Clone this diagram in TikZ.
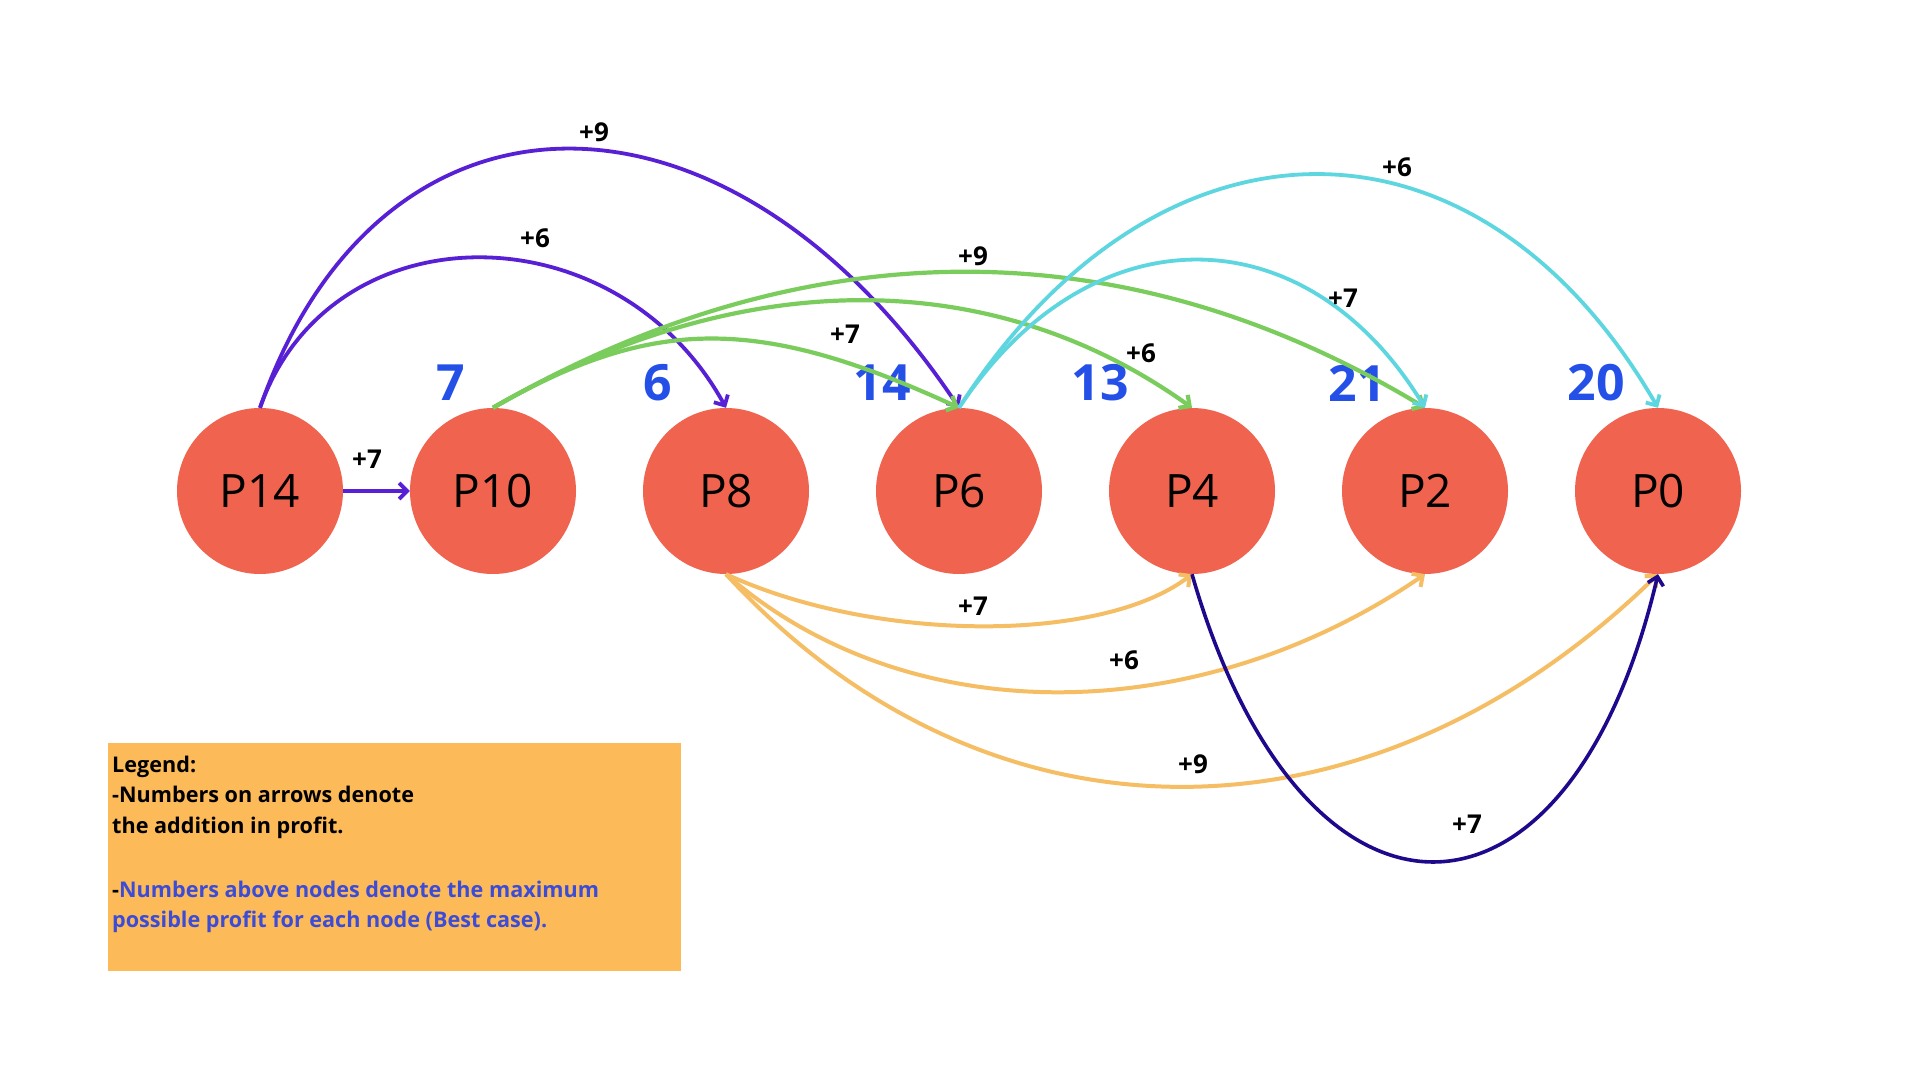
\documentclass[tikz,border=0pt]{standalone}
\usepackage{fontspec}
\setmainfont{Open Sans}
\usetikzlibrary{arrows.meta}
\definecolor{nodered}{RGB}{240,99,79}
\definecolor{purp}{RGB}{88,32,212}
\definecolor{grn}{RGB}{122,205,92}
\definecolor{cyn}{RGB}{94,214,224}
\definecolor{orng}{RGB}{245,190,100}
\definecolor{navy2}{RGB}{30,8,140}
\definecolor{numblue}{RGB}{36,80,232}
\definecolor{legblue}{RGB}{60,76,214}
\definecolor{legbg}{RGB}{252,187,88}
\tikzset{
  pnode/.style={circle, fill=nodered, minimum size=166pt, inner sep=0pt, font=\fontsize{46}{46}\selectfont},
  best/.style={text=numblue, inner sep=0pt, font=\fontsize{50}{50}\selectfont\bfseries},
  elab/.style={inner sep=0pt, font=\fontsize{26}{26}\selectfont\bfseries},
  tip/.style={-{Straight Barb[length=8pt,width=16pt]}},
  pedge/.style={draw=purp, line width=3.8pt, tip},
  gedge/.style={draw=grn, line width=4.2pt, tip},
  cedge/.style={draw=cyn, line width=3.8pt, tip},
  oedge/.style={draw=orng, line width=4pt, tip},
  nedge/.style={draw=navy2, line width=3.6pt, tip},
  legtext/.style={anchor=base west, inner sep=0pt, font=\fontsize{21.6}{21.6}\selectfont\bfseries},
}
\begin{document}
\begin{tikzpicture}[x=1pt,y=1pt]
\fill[white] (0,0) rectangle (1920,1080);
\useasboundingbox (0,0) rectangle (1920,1080);

% legend box
\fill[legbg] (108,109) rectangle (681,337);
\node[legtext] (leg1) at (112,307) {Legend:};
\node[legtext] (leg2) at (112,277) {-Numbers on arrows denote};
\node[legtext] (leg3) at (112,247) {the addition in profit.};
\node[legtext] (leg4) at (112,183) {-\textcolor{legblue}{Numbers above nodes denote the maximum}};
\node[legtext, text=legblue] (leg5) at (112,153) {possible profit for each node (Best case).};

% nodes
\node[pnode] (P14) at (260,589) {P14};
\node[pnode] (P10) at (493,589) {P10};
\node[pnode] (P8) at (726,589) {P8};
\node[pnode] (P6) at (959,589) {P6};
\node[pnode] (P4) at (1192,589) {P4};
\node[pnode] (P2) at (1425,589) {P2};
\node[pnode] (P0) at (1658,589) {P0};

% best-case numbers
\node[best] (b10) at (451,697) {7};
\node[best] (b8) at (658,697) {6};
\node[best] (b6) at (882,697) {14};
\node[best] (b4) at (1100,697) {13};
\node[best] (b2) at (1357,697) {21};
\node[best] (b0) at (1596,697) {20};

% edges
\draw[pedge] (P14.east) -- (P10.west);
\draw[pedge] (P14.north) .. controls +(70,200) and +(-110,200) .. (P8.north);
\draw[pedge] (P14.north) .. controls +(120,345) and +(-230,345) .. (P6.north);

\draw[gedge] (P10.north) .. controls +(160,92) and +(-200,92) .. (P6.north);
\draw[gedge] (P10.north) .. controls +(248,143) and +(-200,143) .. (P4.north);
\draw[gedge] (P10.north) .. controls +(314,181) and +(-300,181) .. (P2.north);

\draw[cedge] (P6.north) .. controls +(130,197) and +(-120,197) .. (P2.north);
\draw[cedge] (P6.north) .. controls +(200,311) and +(-180,311) .. (P0.north);

\draw[oedge] (P8.south) .. controls +(150,-69) and +(-90,-69) .. (P4.south);
\draw[oedge] (P8.south) .. controls +(180,-157) and +(-230,-157) .. (P2.south);
\draw[oedge] (P8.south) .. controls +(260,-283) and +(-290,-283) .. (P0.south);

\draw[nedge] (P4.south) .. controls +(110,-383) and +(-90,-383) .. (P0.south);

% edge labels
\node[elab] (l1) at (367,621) {+7};
\node[elab] (l2) at (535,842) {+6};
\node[elab] (l3) at (594,948) {+9};
\node[elab] (l4) at (845,746) {+7};
\node[elab] (l5) at (1141,727) {+6};
\node[elab] (l6) at (973,824) {+9};
\node[elab] (l7) at (1343,782) {+7};
\node[elab] (l8) at (1397,913) {+6};
\node[elab] (l9) at (973,474) {+7};
\node[elab] (l10) at (1124,420) {+6};
\node[elab] (l11) at (1193,316) {+9};
\node[elab] (l12) at (1467,256) {+7};
\end{tikzpicture}
\end{document}
